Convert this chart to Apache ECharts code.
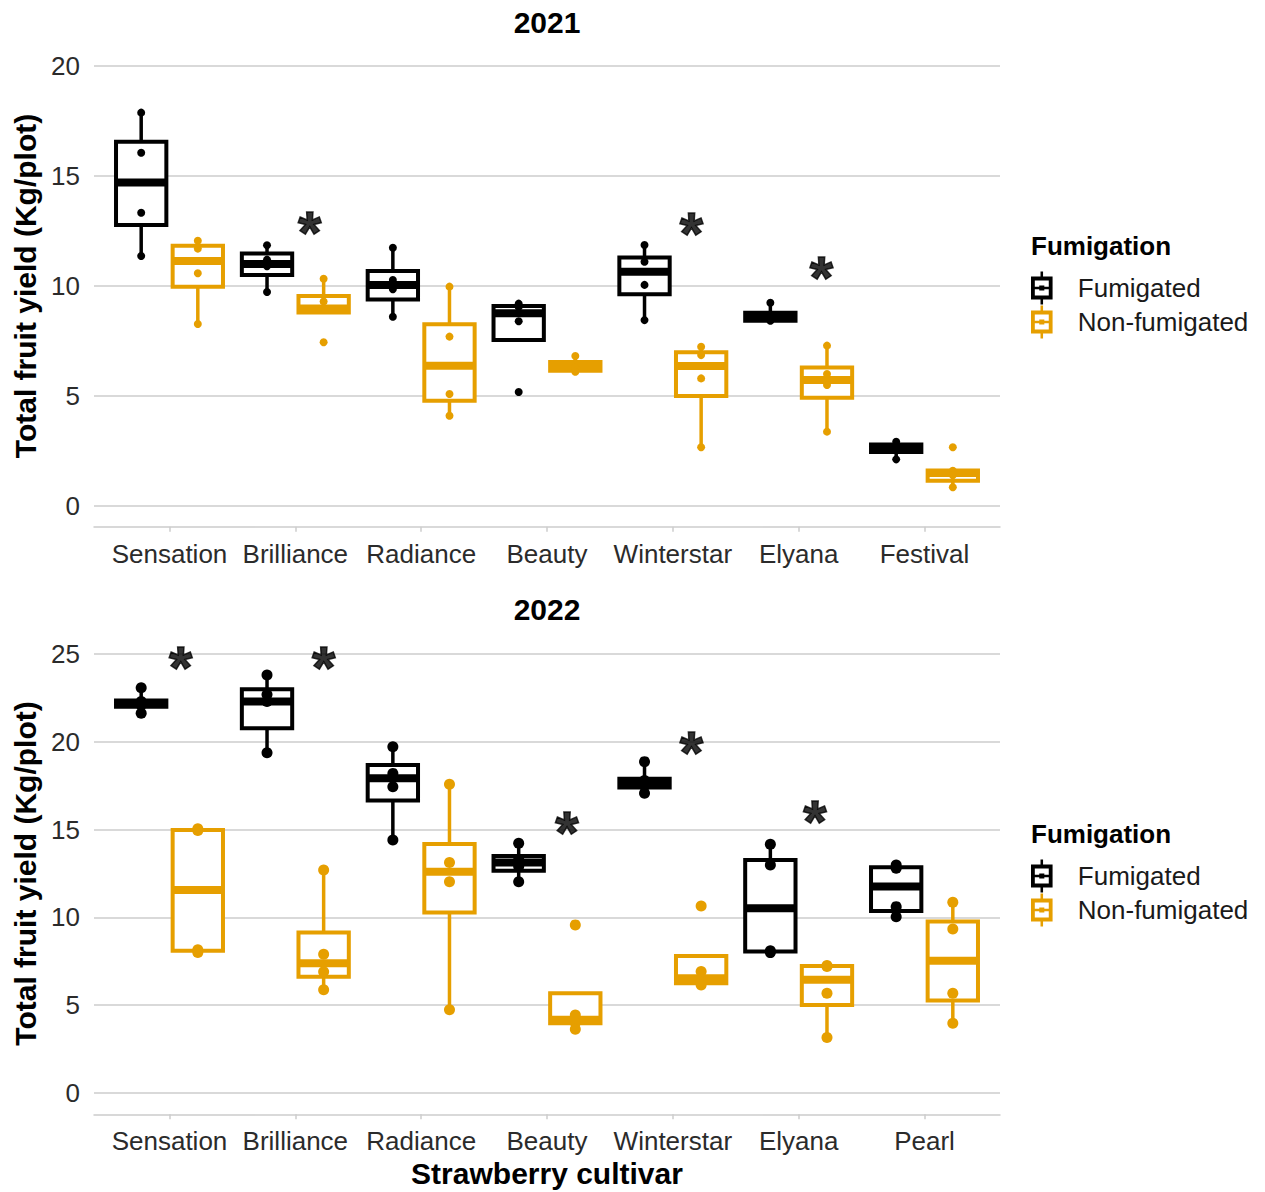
<!DOCTYPE html>
<html>
<head>
<meta charset="utf-8">
<title>Strawberry yield</title>
<script src="https://cdn.jsdelivr.net/npm/echarts@6/dist/echarts.min.js"></script>
<style>
  html, body { margin: 0; padding: 0; background: #fff; }
  #chart { width: 1265px; height: 1192px; }
</style>
</head>
<body>
<div id="chart"></div>
<script>
// categories
const cultivars2021 = ['Sensation', 'Brilliance', 'Radiance', 'Beauty', 'Winterstar', 'Elyana', 'Festival'];
const cultivars2022 = ['Sensation', 'Brilliance', 'Radiance', 'Beauty', 'Winterstar', 'Elyana', 'Pearl'];
const yTicks2021 = [0, 5, 10, 15, 20];
const yTicks2022 = [0, 5, 10, 15, 20, 25];

// box stats: [lower whisker, Q1, median, Q3, upper whisker]
const fumBox2021 = [
  [11.36, 12.77, 14.7, 16.56, 17.88],
  [9.73, 10.5, 11.0, 11.48, 11.85],
  [8.6, 9.39, 10.05, 10.68, 11.74],
  [7.55, 7.55, 8.76, 9.09, 9.2],
  [8.45, 9.62, 10.65, 11.3, 11.86],
  [8.42, 8.42, 8.6, 8.78, 9.24],
  [2.12, 2.45, 2.62, 2.8, 2.92]
];
const nonBox2021 = [
  [8.27, 9.97, 11.14, 11.83, 12.06],
  [8.8, 8.8, 8.98, 9.55, 10.33],
  [4.1, 4.79, 6.38, 8.26, 9.97],
  [6.1, 6.15, 6.37, 6.55, 6.82],
  [2.67, 5.0, 6.36, 6.99, 7.24],
  [3.38, 4.92, 5.73, 6.3, 7.29],
  [0.85, 1.15, 1.5, 1.62, 1.62]
];
const fumBox2022 = [
  [21.62, 22.0, 22.19, 22.35, 23.08],
  [19.38, 20.77, 22.29, 22.99, 23.8],
  [14.41, 16.65, 17.92, 18.68, 19.72],
  [12.03, 12.65, 13.12, 13.5, 14.22],
  [17.07, 17.4, 17.64, 17.9, 18.87],
  [7.99, 8.05, 10.52, 13.27, 14.16],
  [10.04, 10.36, 11.75, 12.85, 12.98]
];
const nonBox2022 = [
  [8.0, 8.1, 11.56, 14.98, 15.05],
  [5.87, 6.62, 7.38, 9.13, 12.7],
  [4.73, 10.27, 12.6, 14.18, 17.58],
  [3.63, 3.97, 4.16, 5.68, 5.68],
  [6.15, 6.24, 6.53, 7.8, 7.8],
  [3.15, 5.01, 6.44, 7.23, 7.25],
  [3.97, 5.26, 7.53, 9.76, 10.86]
];

// plot replicates (kg/plot)
const fumPts2021 = [
  [17.88, 16.06, 13.33, 11.36],
  [11.85, 11.2, 10.9, 9.73],
  [11.74, 10.27, 9.85, 8.6],
  [9.2, 9.05, 8.4, 5.18],
  [11.86, 11.1, 10.05, 8.45],
  [9.24, 8.7, 8.5, 8.42],
  [2.92, 2.7, 2.55, 2.12]
];
const nonPts2021 = [
  [12.06, 11.7, 10.58, 8.27],
  [10.33, 9.3, 9.0, 7.44],
  [9.97, 7.7, 5.09, 4.1],
  [6.82, 6.45, 6.3, 6.1],
  [7.24, 6.86, 5.8, 2.67],
  [7.29, 6.0, 5.5, 3.38],
  [2.67, 1.6, 1.4, 0.85]
];
const fumPts2022 = [
  [23.08, 22.3, 22.1, 21.62],
  [23.8, 22.7, 22.3, 19.38],
  [19.72, 18.2, 17.44, 14.41],
  [14.22, 13.3, 12.9, 12.03],
  [18.87, 17.8, 17.5, 17.07],
  [14.16, 12.98, 8.1, 7.99],
  [12.98, 12.8, 10.61, 10.04]
];
const nonPts2022 = [
  [15.05, 14.95, 8.15, 8.0],
  [12.7, 7.9, 6.9, 5.87],
  [17.58, 13.12, 12.03, 4.73],
  [9.57, 4.44, 4.0, 3.63],
  [10.65, 6.91, 6.3, 6.15],
  [7.25, 7.2, 5.68, 3.15],
  [10.86, 9.34, 5.68, 3.97]
];

// significance marks (x in cultivar units, y in kg/plot)
const star2021X = [1.113, 4.147, 5.18];
const star2021Y = [12.8, 12.77, 10.73];
const star2022X = [0.089, 1.225, 3.159, 4.147, 5.13];
const star2022Y = [24.7, 24.7, 15.31, 19.82, 15.93];

const FONT = '"Liberation Sans", Arial, sans-serif';
const BLACK = '#000000';
const ORANGE = '#E69F00';
const DODGE = 0.225;
const BOX_W = 0.4;
const boxIcon = 'path://M7.5 0h2v4h-2z M0 4h17v3h-17z M0 19h17v3h-17z M0 4h3v18h-3z M14 4h3v18h-3z M0 12h17v2h-17z M6.5 11h4v4h-4z M7.5 22h2v4h-2z';

const myChart = echarts.init(document.getElementById('chart'), null, { renderer: 'svg' });

function renderBox(params, api) {
  const x = api.value(0);
  const w = api.size([BOX_W, 0])[0];
  const low = api.coord([x, api.value(1)]);
  const q1 = api.coord([x, api.value(2)]);
  const med = api.coord([x, api.value(3)]);
  const q3 = api.coord([x, api.value(4)]);
  const high = api.coord([x, api.value(5)]);
  const color = api.visual('color');
  const cx = med[0];
  return {
    type: 'group',
    children: [
      { type: 'line', shape: { x1: cx, y1: q3[1], x2: cx, y2: high[1] }, style: { stroke: color, lineWidth: 3.5 } },
      { type: 'line', shape: { x1: cx, y1: q1[1], x2: cx, y2: low[1] }, style: { stroke: color, lineWidth: 3.5 } },
      { type: 'rect', shape: { x: cx - w / 2, y: q3[1], width: w, height: q1[1] - q3[1] }, style: { fill: '#fff', stroke: color, lineWidth: 4 } },
      { type: 'line', shape: { x1: cx - w / 2, y1: med[1], x2: cx + w / 2, y2: med[1] }, style: { stroke: color, lineWidth: 8 } }
    ]
  };
}

function boxSeries(name, stats, off, color, idx) {
  return {
    name: name,
    type: 'custom',
    xAxisIndex: idx,
    yAxisIndex: idx,
    renderItem: renderBox,
    itemStyle: { color: color },
    encode: { x: 0, y: [1, 2, 3, 4, 5] },
    data: stats.map((s, i) => [i + off].concat(s)),
    z: 2
  };
}

function pointSeries(name, pts, off, color, idx, size) {
  const data = [];
  pts.forEach((vals, i) => vals.forEach(v => data.push([i + off, v])));
  return {
    name: name,
    type: 'scatter',
    xAxisIndex: idx,
    yAxisIndex: idx,
    symbolSize: size,
    itemStyle: { color: color, opacity: 1 },
    data: data,
    z: 3
  };
}

function starSeries(xs, ys, idx) {
  return {
    name: 'signif' + idx,
    type: 'scatter',
    xAxisIndex: idx,
    yAxisIndex: idx,
    symbolSize: 2,
    itemStyle: { color: 'rgba(0,0,0,0)' },
    label: {
      show: true, position: 'inside', formatter: '*', offset: [0, 8],
      fontSize: 60, fontWeight: 'bold', color: BLACK, fontFamily: FONT,
      textBorderColor: BLACK, textBorderWidth: 1.5
    },
    data: xs.map((x, i) => [x, ys[i]]),
    z: 4
  };
}

function xAxis(cats, idx, showName) {
  const idxs = cats.map((c, i) => i);
  return {
    type: 'value',
    gridIndex: idx,
    min: -0.6,
    max: 6.6,
    name: showName ? 'Strawberry cultivar' : '',
    nameLocation: 'middle',
    nameGap: 44,
    nameTextStyle: { fontSize: 30, fontWeight: 'bold', color: BLACK, fontFamily: FONT },
    axisLine: { show: true, onZero: false, lineStyle: { color: '#cccccc', width: 1.5 } },
    axisTick: { show: true, length: 5, customValues: idxs, lineStyle: { color: '#cccccc', width: 1.5 } },
    axisLabel: {
      customValues: idxs, formatter: v => cats[Math.round(v)],
      fontSize: 26, color: '#2b2b2b', margin: 14, fontFamily: FONT
    },
    splitLine: { show: false }
  };
}

function yAxis(ticks, min, max, idx) {
  return {
    type: 'value',
    gridIndex: idx,
    min: min,
    max: max,
    name: 'Total fruit yield (Kg/plot)',
    nameLocation: 'middle',
    nameGap: 51,
    nameTextStyle: { fontSize: 30, fontWeight: 'bold', color: BLACK, fontFamily: FONT },
    axisLine: { show: false },
    axisTick: { show: true, length: 7, customValues: ticks, lineStyle: { color: '#d9d9d9', width: 2 } },
    axisLabel: { customValues: ticks, fontSize: 26, color: '#2b2b2b', margin: 14, fontFamily: FONT },
    splitLine: { show: true, lineStyle: { color: '#d9d9d9', width: 2 } }
  };
}

function legend(top) {
  return {
    orient: 'vertical',
    left: 1031,
    top: top,
    padding: 0,
    itemWidth: 22,
    itemHeight: 33,
    itemGap: 1,
    selectedMode: false,
    textStyle: { fontSize: 26, color: '#1a1a1a', fontFamily: FONT, padding: [0, 0, 0, 20] },
    data: [
      { name: 'Fumigated', icon: boxIcon, itemStyle: { color: BLACK, borderWidth: 0 } },
      { name: 'Non-fumigated', icon: boxIcon, itemStyle: { color: ORANGE, borderWidth: 0 } }
    ]
  };
}

function heading(text, x, y, size, align) {
  return {
    type: 'text', x: x, y: y,
    style: { text: text, fontSize: size, fontWeight: 'bold', fill: BLACK, fontFamily: FONT, align: align, verticalAlign: 'middle' }
  };
}

myChart.setOption({
  backgroundColor: '#ffffff',
  animation: false,
  grid: [
    { left: 94, right: 265, top: 45.3, bottom: 665.3, outerBoundsMode: 'none', containLabel: false },
    { left: 94, right: 265, top: 632.6, bottom: 77.7, outerBoundsMode: 'none', containLabel: false }
  ],
  xAxis: [xAxis(cultivars2021, 0, false), xAxis(cultivars2022, 1, true)],
  yAxis: [yAxis(yTicks2021, -0.94, 20.94, 0), yAxis(yTicks2022, -1.22, 26.22, 1)],
  legend: [legend(271.5), legend(859.5)],
  graphic: [
    heading('2021', 547, 22, 30, 'center'),
    heading('2022', 547, 609, 30, 'center'),
    heading('Fumigation', 1031, 246, 26, 'left'),
    heading('Fumigation', 1031, 834, 26, 'left')
  ],
  series: [
    boxSeries('Fumigated', fumBox2021, -DODGE, BLACK, 0),
    boxSeries('Non-fumigated', nonBox2021, DODGE, ORANGE, 0),
    pointSeries('Fumigated plots 2021', fumPts2021, -DODGE, BLACK, 0, 8),
    pointSeries('Non-fumigated plots 2021', nonPts2021, DODGE, ORANGE, 0, 8),
    starSeries(star2021X, star2021Y, 0),
    boxSeries('Fumigated', fumBox2022, -DODGE, BLACK, 1),
    boxSeries('Non-fumigated', nonBox2022, DODGE, ORANGE, 1),
    pointSeries('Fumigated plots 2022', fumPts2022, -DODGE, BLACK, 1, 11),
    pointSeries('Non-fumigated plots 2022', nonPts2022, DODGE, ORANGE, 1, 11),
    starSeries(star2022X, star2022Y, 1)
  ]
});
</script>
</body>
</html>
